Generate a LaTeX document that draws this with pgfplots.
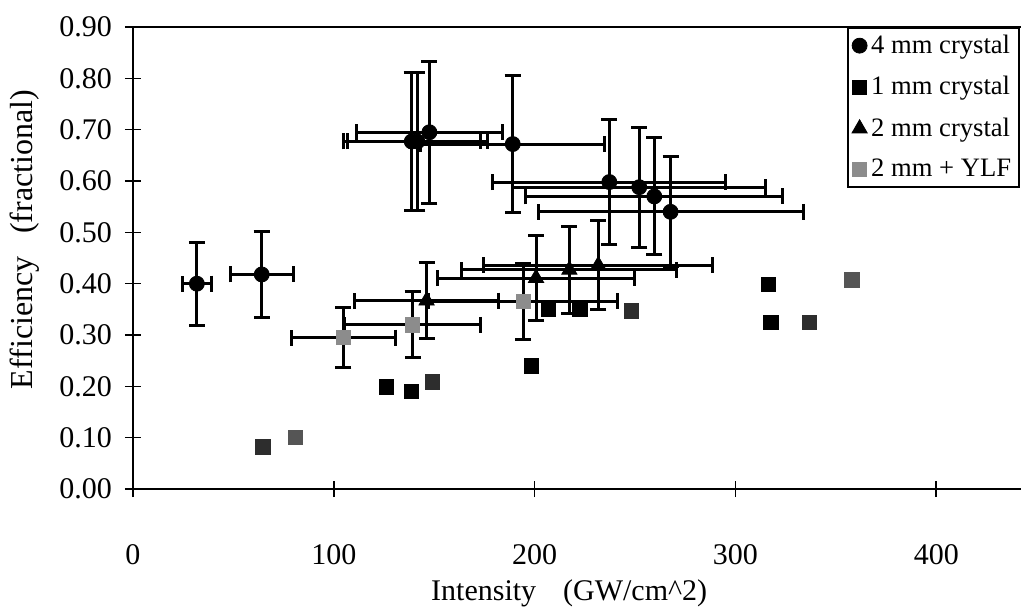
\documentclass[border=0pt]{standalone}
\usepackage{fontspec}
\setmainfont{Liberation Serif}
\usepackage{pgfplots}
\usepackage{pgfplotstable}
\pgfplotsset{compat=1.18}
\definecolor{ylfgray}{RGB}{140,140,140}
\definecolor{dkgray}{RGB}{45,45,45}
\definecolor{mdgray}{RGB}{85,85,85}

\pgfplotstableread{
x y ex ey
31.8 0.400 7.3 0.081
64.1 0.418 15.7 0.083
138.8 0.677 34.1 0.134
141.6 0.677 35.0 0.134
147.6 0.695 36.4 0.138
189.1 0.672 45.7 0.134
237.2 0.598 58.0 0.121
252.1 0.588 63.0 0.117
259.6 0.570 64.0 0.114
267.7 0.540 66.0 0.107
}\fourmm

\pgfplotstableread{
x y
126.3 0.199
138.7 0.190
198.5 0.240
206.8 0.350
222.6 0.350
316.4 0.399
317.6 0.324
}\onemm

\pgfplotstableread{
x y
149.2 0.209
248.3 0.347
336.7 0.324
64.6 0.082
}\onemmdark

\pgfplotstableread{
x y
81.0 0.100
357.9 0.407
}\onemmmid

\pgfplotstableread{
x y ex ey
146.2 0.367 36.0 0.074
200.7 0.411 49.0 0.082
217.3 0.427 53.5 0.085
231.7 0.436 57.0 0.087
}\twomm

\pgfplotstableread{
x y ex ey
104.7 0.295 26.0 0.059
139.2 0.320 34.0 0.064
194.3 0.366 47.0 0.074
}\ylf

\pgfplotsset{
  myerr/.style={error bars/.cd, x dir=both, x explicit, y dir=both, y explicit,
    error bar style={line width=1.5pt, black},
    error mark=-,
    error mark options={rotate=90, line width=1.5pt, black, mark size=4pt}},
}

\begin{document}
\begin{tikzpicture}
\begin{axis}[
  name=ax,
  scale only axis,
  width=446pt, height=231pt,
  xmin=0, xmax=444.2, ymin=0, ymax=0.9,
  xtick={0,100,200,300,400},
  ytick={0,0.1,0.2,0.3,0.4,0.5,0.6,0.7,0.8,0.9},
  tick pos=left,
  tick align=center,
  major tick length=8pt,
  axis line style={line width=1pt},
  every tick/.style={black, line width=0.8pt},
  /pgf/number format/assume math mode=true,
  tick label style={font=\fontsize{15}{18}\selectfont},
  yticklabel style={/pgf/number format/fixed, /pgf/number format/fixed zerofill, /pgf/number format/precision=2, xshift=-3pt},
  xticklabel style={yshift=-20pt},
  xlabel={Intensity\hspace{0.9em}(GW/cm\textasciicircum 2)},
  xlabel style={font=\fontsize{15}{18}\selectfont, at={(axis description cs:0.489,-0.226)}, anchor=center},
  ylabel={Efficiency\hspace{0.7em}(fractional)},
  ylabel style={font=\fontsize{16}{19}\selectfont, at={(axis description cs:-0.121,0.54)}, anchor=center},
  legend style={at={(axis cs:355.6,0.9)}, anchor=north west, draw=black, line width=0.9pt,
    font=\fontsize{13.3}{15}\selectfont, row sep=6pt, inner xsep=2pt, inner ysep=1.5pt},
  legend cell align=left,
  legend image code/.code={\draw[mark repeat=2,mark phase=2,#1] plot coordinates {(0cm,0cm) (0.16cm,0cm) (0.32cm,0cm)};},
]
\addplot[only marks, mark=*, mark size=3.75pt, black, mark options={line width=0.4pt}, myerr]
  table[x=x, y=y, x error=ex, y error=ey]{\fourmm};
\addlegendentry{4 mm crystal}
\addplot[only marks, mark=square*, mark size=3.6pt, black, mark options={line width=0.4pt}]
  table[x=x, y=y]{\onemm};
\addlegendentry{1 mm crystal}
\addplot[only marks, mark=triangle*, mark size=4.4pt, black, mark options={line width=0.4pt}, myerr]
  table[x=x, y=y, x error=ex, y error=ey]{\twomm};
\addlegendentry{2 mm crystal}
\addplot[only marks, mark=square*, mark size=3.6pt, ylfgray, mark options={line width=0.4pt}, myerr]
  table[x=x, y=y, x error=ex, y error=ey]{\ylf};
\addlegendentry{2 mm + YLF}
\addplot[forget plot, only marks, mark=square*, mark size=3.6pt, dkgray, mark options={line width=0.4pt}]
  table[x=x, y=y]{\onemmdark};
\addplot[forget plot, only marks, mark=square*, mark size=3.6pt, mdgray, mark options={line width=0.4pt}]
  table[x=x, y=y]{\onemmmid};
\end{axis}
\pgfresetboundingbox
\path (ax.south west) ++(-66.5pt,-59pt) rectangle ++(510.5pt,303.5pt);
\end{tikzpicture}
\end{document}
